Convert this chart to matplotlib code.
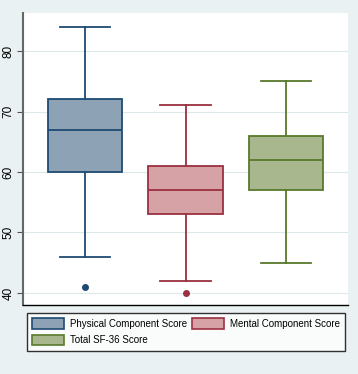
import matplotlib.pyplot as plt
from matplotlib.patches import Patch

# values
labels = ["Physical Component Score", "Mental Component Score", "Total SF-36 Score"]
lower_whisker = [46, 42, 45]
q1 = [60, 53, 57]
median = [67, 57, 62]
q3 = [72, 61, 66]
upper_whisker = [84, 71, 75]
outliers = [[41], [40], []]
y_ticks = [40, 50, 60, 70, 80]

fills = ["#8ea2b6", "#d6a2a6", "#a9b78e"]
edges = ["#1f4a73", "#9a3040", "#587a2c"]

plt.rcParams["font.family"] = ["Liberation Sans", "DejaVu Sans"]

fig = plt.figure(figsize=(3.58, 3.74), dpi=100)
fig.patch.set_facecolor("#eaf1f2")
ax = fig.add_axes([23 / 358, 1 - 305 / 374, 325 / 358, 292 / 374])
ax.set_facecolor("white")

stats = []
for i, name in enumerate(labels):
    stats.append(dict(label=name, whislo=lower_whisker[i], q1=q1[i], med=median[i],
                      q3=q3[i], whishi=upper_whisker[i], fliers=outliers[i]))

for i, st in enumerate(stats):
    ax.bxp([st], positions=[i + 1], widths=0.746, capwidths=0.507,
           patch_artist=True, showfliers=True,
           boxprops=dict(facecolor=fills[i], edgecolor=edges[i], linewidth=1.3),
           medianprops=dict(color=edges[i], linewidth=1.3),
           whiskerprops=dict(color=edges[i], linewidth=1.3),
           capprops=dict(color=edges[i], linewidth=1.3),
           flierprops=dict(marker="o", markersize=4, markerfacecolor=edges[i],
                           markeredgecolor=edges[i]))

ax.set_xlim(0.383, 3.617)
ax.set_ylim(38.0, 86.3)
ax.set_yticks(y_ticks)
ax.set_yticklabels([str(t) for t in y_ticks], rotation=90, va="center", fontsize=8.5)
ax.set_xticks([])
ax.grid(axis="y", color="#dde8ea", linewidth=0.8)
ax.set_axisbelow(True)
ax.tick_params(axis="y", length=4, color="#555555", pad=2)

for side in ["top", "right"]:
    ax.spines[side].set_visible(False)
ax.spines["left"].set_color("#666666")
ax.spines["left"].set_linewidth(1.5)
ax.spines["bottom"].set_color("black")
ax.spines["bottom"].set_linewidth(1.0)

# legend fills row by row in the reference, matplotlib fills column by column
handles = [Patch(facecolor=fills[i], edgecolor=edges[i], linewidth=1.2, label=labels[i])
           for i in (0, 2, 1)]
leg = fig.legend(handles=handles, loc="upper left", ncol=2,
                 bbox_to_anchor=(27 / 358, 1 - 313 / 374),
                 fontsize=7, frameon=True, fancybox=False,
                 handlelength=3.3, handleheight=1.3,
                 columnspacing=0.45, handletextpad=0.6, labelspacing=0.6,
                 borderpad=0.55, borderaxespad=0)
leg.get_frame().set_edgecolor("black")
leg.get_frame().set_linewidth(1.0)

fig.savefig("out.png", dpi=100, facecolor=fig.get_facecolor())
